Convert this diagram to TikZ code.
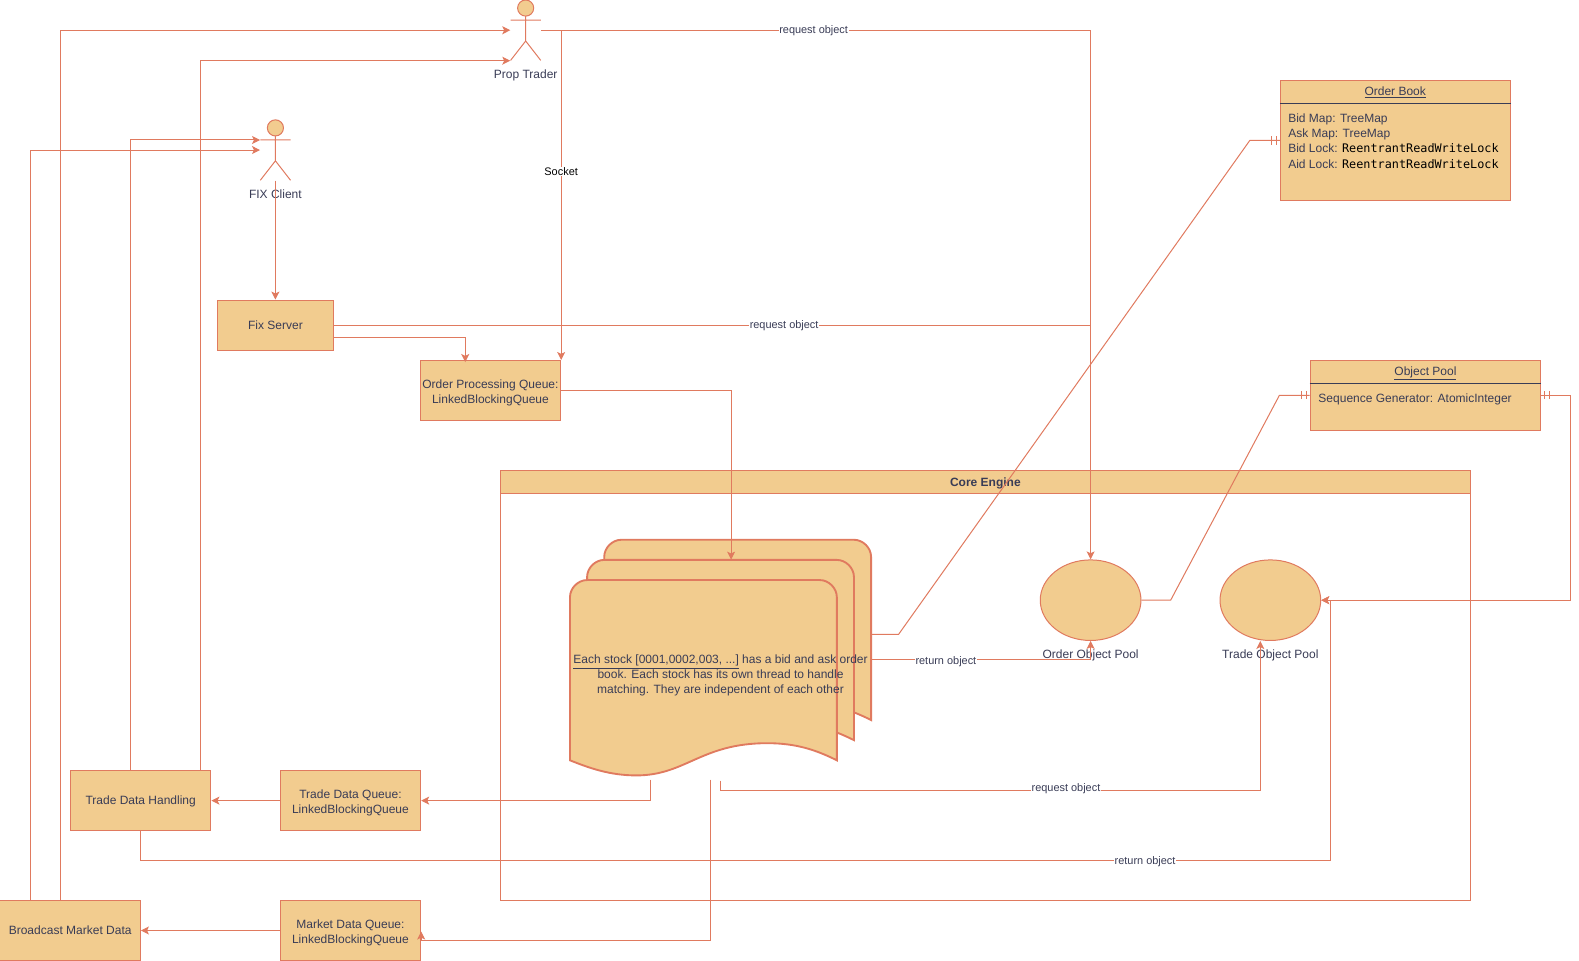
\documentclass[tikz,border=0pt]{standalone}
\usepackage{fontspec}
\setmainfont{Liberation Sans}
\newfontfamily\lockfont[Scale=0.985]{DejaVu Sans Mono}
\usetikzlibrary{calc,arrows.meta,shapes.geometric}
\definecolor{linecol}{HTML}{E07A5F}
\definecolor{sandcol}{HTML}{F2CC8F}
\definecolor{inkcol}{HTML}{393C56}
\def\px{0.755pt}
\newcommand{\dropline}{\rule{0pt}{9.5pt}}
\tikzset{
  caption/.style = {font=\fontsize{9}{11.2}\selectfont, text=inkcol, align=center, inner sep=0pt},
  card/.style    = {shape=rectangle, draw=linecol, fill=sandcol, line width=0.75pt, caption,
                    minimum width=139.5*\px, minimum height=60*\px},
  pool/.style    = {shape=ellipse, draw=linecol, fill=sandcol, line width=0.75pt,
                    minimum width=100*\px, minimum height=80*\px, inner sep=0pt},
  actor/.style   = {minimum width=30*\px, minimum height=60*\px, inner sep=0pt},
  link/.style    = {draw=linecol, line width=0.75pt},
  flow/.style    = {link, -{Stealth[length=6pt,width=6pt,inset=1.4pt]}},
  tag/.style     = {caption, fill=white, inner xsep=0.5pt, inner ysep=0.5pt, font=\fontsize{8.2}{10}\selectfont},
  stickman/.pic  = {
    \draw[link, fill=sandcol] (0,-22) circle[radius=8];
    \draw[link] (0,-14) -- (0,10.7) (-15,-10) -- (15,-10) (-15,30) -- (0,10.7) -- (15,30);
  },
  stocksheet/.pic = {
    \draw[draw=linecol, fill=sandcol, line width=1.4pt]
      (0,179) -- (0,17) .. controls (0,8) and (8,0) .. (17,0) -- (248,0)
      .. controls (257,0) and (265,8) .. (265,17) -- (265,179)
      .. controls (245,169) and (225,162) .. (196,162)
      .. controls (130,162) and (115,194) .. (66,194)
      .. controls (40,194) and (20,187) .. (0,179) -- cycle;
  }
}
\newcommand{\ticks}[2]{\foreach \d in {3,8} \draw[link] ($(#1)+(#2*\d,-4)$) -- ++(0,8);}

\begin{document}
\begin{tikzpicture}[x=\px,y=-\px]
  \useasboundingbox (0,0) rectangle (1568,954.3);

  % core engine frame
  \node [card, fill=white, minimum width=963*\px, minimum height=427*\px] (core) at (978.5,680.5) {};
  \node [card, minimum width=963*\px, minimum height=23*\px] (corehead) at (978.5,478.5) {};
  \node [caption, font=\fontsize{9}{11}\selectfont\bfseries] (coretext) at (978.5,479.8) {Core Engine};

  % stack of stock sheets
  \foreach \sx/\sy in {600/536,583/556,566/576}
    \pic at (\sx,\sy) {stocksheet};
  \node [minimum width=299*\px, minimum height=234*\px, inner sep=0pt] (stock) at (715.5,653) {};
  \node [caption] (stocktext) at (715.5,671) {\underline{Each stock [0001,0002,003, ...]} has a bid and ask order\\
    book. Each stock has its own thread to handle\\matching. They are independent of each other};

  % actors
  \node [actor] (prop) at (522,30) {};
  \pic at (prop.center) {stickman};
  \node [caption] (proptext) at (522,74.5) {Prop Trader};
  \node [actor] (fixclient) at (273.5,149) {};
  \pic at (fixclient.center) {stickman};
  \node [caption] (fixtext) at (273.5,193) {FIX Client};

  % boxes
  \node [card, minimum width=115*\px, minimum height=50*\px] (fix) at (273.5,323) {Fix Server};
  \node [card] (queue) at (487,388) {\dropline Order Processing Queue:\\LinkedBlockingQueue};
  \node [card] (tradequeue) at (348,795) {\dropline Trade Data Queue:\\LinkedBlockingQueue};
  \node [card] (marketqueue) at (348,924) {\dropline Market Data Queue:\\LinkedBlockingQueue};
  \node [card] (handling) at (139.7,795) {\rule{0pt}{8pt}Trade Data Handling};
  \node [card] (broadcast) at (69.7,924) {Broadcast Market Data};
  \node [pool] (orderpool) at (1083,596) {};
  \node [caption] (ordertext) at (1083,651) {Order Object Pool};
  \node [pool] (tradepool) at (1261.5,596) {};
  \node [caption] (tradetext) at (1261.5,651) {Trade Object Pool};

  % order book
  \node [card, minimum width=228.5*\px, minimum height=119*\px] (book) at (1385.8,139.5) {};
  \draw [inkcol, line width=0.75pt] ($(book.north west)+(0,23.5)$) -- ($(book.north east)+(0,23.5)$);
  \node [caption] (booktitle) at (1385.5,92) {\underline{Order Book}};
  \node [caption, anchor=north west, align=left, font=\fontsize{9}{11.45}\selectfont] (bookbody) at (1279,112.5)
    {Bid Map: TreeMap\\Ask Map: TreeMap\\Bid Lock: {\lockfont\color{black}ReentrantReadWriteLock}\\Aid Lock: {\lockfont\color{black}ReentrantReadWriteLock}};

  % object pool
  \node [card, minimum width=229*\px, minimum height=69*\px] (objpool) at (1415.5,392.5) {};
  \draw [inkcol, line width=0.75pt] ($(objpool.north west)+(0,23.5)$) -- ($(objpool.north east)+(0,23.5)$);
  \node [caption] (objtitle) at (1415.5,371) {\underline{Object Pool}};
  \node [caption, anchor=west] (objbody) at (1309,396.5) {Sequence Generator: AtomicInteger};

  % connectors
  \draw [flow] (broadcast.north) ++(-9.7,0) |- (prop.west);
  \draw [flow] ($(handling.north)+(59.3,0)$) |- (prop.south west);
  \draw [flow] ($(handling.north)+(-10.2,0)$) |- ($(fixclient.west)+(0,-10)$);
  \draw [flow] ($(broadcast.north)+(-39.7,0)$) |- (fixclient.west);
  \draw [flow] (prop.east) -| node [tag, pos=.248] (tagone) {request object} (orderpool.north);
  \draw [flow] (prop.east) -| node [tag, pos=.714, text=black] (tagsocket) {Socket} (queue.north east);
  \draw [flow] (fixclient.south) -- (fix.north);
  \draw [link] (fix.east) -- node [tag, pos=.595] (tagtwo) {request object} (orderpool.north |- fix.east);
  \draw [flow] ($(fix.east)+(0,12)$) -| ($(queue.north)+(-25,2)$);
  \draw [flow] (queue.east) -| ($(stock.north)+(10.5,20)$);
  \draw [link] ($(stock.east)+(0,-23)$) -- ++(27,0) -- ($(book.west)+(-30,0)$) -- (book.west);
  \ticks{book.west}{-1}
  \draw [flow] ($(stock.east)+(0,2)$) -| node [tag, pos=.17, yshift=-1.4pt] (tagthree) {return object} (orderpool.south);
  \draw [link] (orderpool.east) -- ++(29,0) -- ($(objpool.west)+(-30,0)$) -- (objpool.west);
  \ticks{objpool.west}{-1}
  \draw [flow] (objpool.east) -- ++(29,0) |- (tradepool.east);
  \ticks{objpool.east}{1}
  \draw [flow] ($(stock.south)+(-69.5,4)$) |- (tradequeue.east);
  \draw [flow] ($(stock.south)+(0,5)$) -- ++(0,10) -| node [tag, pos=.32, yshift=1.8pt] (tagfour) {request object} ($(tradepool.south)+(-10,0)$);
  \draw [flow] ($(stock.south)+(-10,4)$) |- ($(marketqueue.east)+(0,10)$) -- ($(marketqueue.east)+(0,1)$);
  \draw [flow] (tradequeue.west) -- (handling.east);
  \draw [flow] (marketqueue.west) -- (broadcast.east);
  \draw [flow] (handling.south) -- ++(0,29) -| node [tag, pos=.422, yshift=-.6pt] (tagfive) {return object} ($(tradepool.east)+(9.5,0)$) -- (tradepool.east);
\end{tikzpicture}
\end{document}
